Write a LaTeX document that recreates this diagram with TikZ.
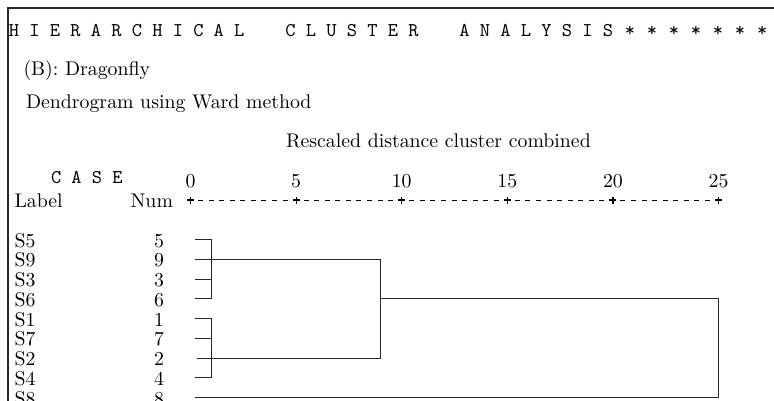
\documentclass[tikz,border=0pt]{standalone}
\usepackage{fontspec}
\setmainfont{lmroman10-regular}[Extension=.otf]
\setmonofont{lmmono10-regular}[Extension=.otf]
\usetikzlibrary{positioning}
\tikzset{
    every node/.style={inner sep=0pt, outer sep=0pt}, % text sits exactly at its anchor
    txt/.style={font=\fontsize{19.8}{22}\selectfont, anchor=base west}, % serif text, left aligned
    mono/.style={font=\ttfamily\fontsize{19.5}{22}\selectfont, anchor=base west}, % SPSS typewriter text
    num/.style={font=\fontsize{19.8}{22}\selectfont, anchor=base east}, % case numbers, right aligned
    axnum/.style={font=\fontsize{19.8}{22}\selectfont, anchor=base}, % scale values
    frame/.style={line width=1.4pt, black!85},
    axis/.style={line width=1pt, dash pattern=on 5pt off 5.56pt},
    tick/.style={line width=1.2pt},
    tree/.style={line width=1pt, black!85},
}

\begin{document}
\begin{tikzpicture}[x=1pt, y=-1pt]
    \useasboundingbox (0,0) rectangle (774,400);

    % frame
    \coordinate (tl) at (8,8);
    \draw[frame] (8,404) -- (tl) -- (778,8);

    % titles
    \node[mono] (hdr) at (9,36) {H I E R A R C H I C A L\ \ \ \ C L U S T E R\ \ \ \ A N A L Y S I S\hspace{11.8pt}*\hspace{11.8pt}*\hspace{11.8pt}*\hspace{11.8pt}*\hspace{11.8pt}*\hspace{11.8pt}*\hspace{11.8pt}*\hspace{11.8pt}*};
    \node[txt] (sub) at (23.5,75) {(B): Dragonfly};
    \node[txt] (meth) at (26,108.5) {Dendrogram using Ward method};
    \node[txt] (resc) at (286,147) {Rescaled distance cluster combined};

    % column heads
    \node[mono] (case) at (51,183.5) {C A S E};
    \node[txt] (lab) at (14.5,207.5) {Label};
    \node[num] (numh) at (173,207.5) {Num};

    % scale
    \node[axnum] (t0) at (190.5,187) {0};
    \node[axnum] (t5) at (296.1,187) {5};
    \node[axnum] (t10) at (401.7,187) {10};
    \node[axnum] (t15) at (507.3,187) {15};
    \node[axnum] (t20) at (612.9,187) {20};
    \node[axnum] (t25) at (718.5,187) {25};
    \coordinate (ax) at (187.5,200);
    \coordinate (axend) at (726,200);
    \draw[axis] (ax) -- (axend);
    \foreach \t in {t0,t5,t10,t15,t20,t25}
        \draw[tick] (\t |- ax) ++(-3.5,0) -- ++(7,0) ++(-3.5,-3.5) -- ++(0,7);

    % cases
    \node[txt] (l5) at (14.5,247) {S5};  \node[num] (n5) at (164,247) {5};
    \node[txt] (l9) at (14.5,266.75) {S9};  \node[num] (n9) at (164,266.75) {9};
    \node[txt] (l3) at (14.5,286.5) {S3};  \node[num] (n3) at (164,286.5) {3};
    \node[txt] (l6) at (14.5,306.25) {S6};  \node[num] (n6) at (164,306.25) {6};
    \node[txt] (l1) at (14.5,326) {S1};  \node[num] (n1) at (164,326) {1};
    \node[txt] (l7) at (14.5,345.75) {S7};  \node[num] (n7) at (164,345.75) {7};
    \node[txt] (l2) at (14.5,365.5) {S2};  \node[num] (n2) at (164,365.5) {2};
    \node[txt] (l4) at (14.5,385.25) {S4};  \node[num] (n4) at (164,385.25) {4};
    \node[txt] (l8) at (14.5,405) {S8};  \node[num] (n8) at (164,405) {8};

    % line starts of the rows
    \coordinate (c5) at (195,239.5);
    \coordinate (c9) at (195,259.25);
    \coordinate (c3) at (195,279);
    \coordinate (c6) at (195,298.75);
    \coordinate (c1) at (195,318.5);
    \coordinate (c7) at (195,338.25);
    \coordinate (c2) at (196.5,358);
    \coordinate (c4) at (195,377.75);
    \coordinate (c8) at (195,397.5);

    % merge levels
    \coordinate (ka) at (211,0);
    \coordinate (kb) at (380.5,0);
    \coordinate (kc) at (718.5,0);

    % dendrogram
    \draw[tree] (c5) -- (c5 -| ka) -- (c6 -| ka) -- (c6);
    \draw[tree] (c3) -- (c3 -| ka);
    \draw[tree] (c9) -- (c9 -| kb);
    \draw[tree] (c1) -- (c1 -| ka) -- (c4 -| ka) -- (c4);
    \draw[tree] (c7) -- (c7 -| ka);
    \draw[tree] (c2) -- (c2 -| kb);
    \draw[tree] (c9 -| kb) -- (c2 -| kb);
    \draw[tree] (c6 -| kb) -- (c6 -| kc) -- (c8 -| kc) -- (c8);
\end{tikzpicture}
\end{document}
